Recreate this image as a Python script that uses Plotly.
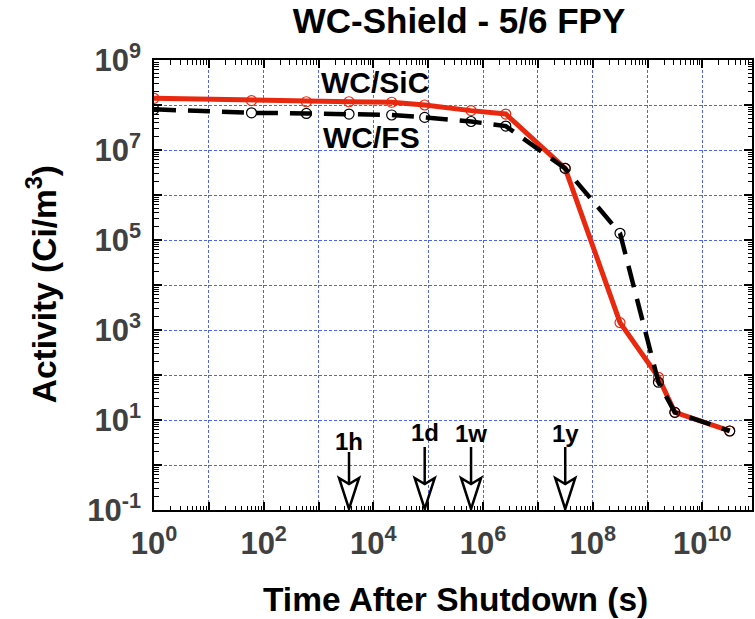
import math
import plotly.graph_objects as go

# ---- data ----
time_s = [1, 60, 600, 3600, 21600, 86400, 604800, 2.6e6, 3.15e7, 3.15e8, 1.58e9, 3.15e9, 3.15e10]
wc_sic = [1.41e8, 1.25e8, 1.18e8, 1.18e8, 1.15e8, 1.0e8, 7.5e7, 6.3e7, 3.9e6, 1.46e3, 89, 14.8, 5.7]
wc_fs = [8.0e7, 6.7e7, 6.5e7, 6.3e7, 6.0e7, 5.3e7, 4.3e7, 3.4e7, 3.9e6, 1.41e5, 69, 14.8, 5.7]

marker_labels = ["1h", "1d", "1w", "1y"]
marker_times = [3600, 86400, 604800, 3.156e7]

x_tick_exps = list(range(0, 11))
y_tick_exps = list(range(-1, 10))
x_label_exps = [0, 2, 4, 6, 8, 10]
y_label_exps = [-1, 1, 3, 5, 7, 9]

# ---- styles ----
RED = "#e8290f"
GRID = "#4f63ec"
FONT = "Liberation Sans, Arial, Helvetica, sans-serif"
TICKCOL = "#404040"
X_RANGE = [0, 10.905]
Y_RANGE = [-1, 9]

fig = go.Figure()

fig.add_trace(go.Scatter(
    x=time_s, y=wc_sic, mode="lines+markers", name="WC/SiC",
    line=dict(color=RED, width=5),
    marker=dict(symbol="circle-open", size=10, color=RED, line=dict(width=1.2, color=RED)),
))
# drawn on the overlay axes (same scales), which also carry the tick labels
fig.add_trace(go.Scatter(
    x=time_s, y=wc_fs, mode="lines+markers", name="WC/FS", xaxis="x2", yaxis="y2",
    line=dict(color="black", width=4.5, dash="22px,12px"),
    marker=dict(symbol="circle-open", size=10, color="black", line=dict(width=1.2, color="black")),
))

def minor_vals(exps):
    return [m * 10.0 ** e for e in exps for m in range(2, 10)]

def labels(exps):
    return [f"10<sup>{e}</sup>" for e in exps]

grid_axis = dict(
    type="log",
    showline=True, linecolor="black", linewidth=2, mirror="ticks",
    ticks="inside", ticklen=8, tickwidth=1.5, tickcolor="black",
    showgrid=True, gridcolor=GRID, gridwidth=1, griddash="3px,2px",
    zeroline=False, showticklabels=False, tickmode="array",
)
label_axis = dict(
    type="log", showline=False, showgrid=False, zeroline=False, ticks="",
    tickmode="array",
    tickfont=dict(family=FONT, size=31, color=TICKCOL, weight="bold"),
)

fig.update_layout(
    xaxis=dict(
        **grid_axis,
        range=X_RANGE,
        tickvals=[10.0 ** e for e in x_tick_exps],
        minor=dict(ticks="inside", ticklen=4.5, tickwidth=1.2, tickcolor="black",
                   tickmode="array", tickvals=minor_vals(x_tick_exps), showgrid=False),
    ),
    yaxis=dict(
        **grid_axis,
        range=Y_RANGE,
        tickvals=[10.0 ** e for e in y_tick_exps],
        minor=dict(ticks="inside", ticklen=4.5, tickwidth=1.2, tickcolor="black",
                   tickmode="array", tickvals=minor_vals(y_tick_exps), showgrid=False),
    ),
    xaxis2=dict(
        **label_axis, overlaying="x", anchor="y2", side="bottom", range=X_RANGE,
        tickvals=[10.0 ** e for e in x_label_exps], ticktext=labels(x_label_exps),
        ticklabelstandoff=12,
    ),
    yaxis2=dict(
        **label_axis, overlaying="y", anchor="x2", side="left", range=Y_RANGE,
        tickvals=[10.0 ** e for e in y_label_exps], ticktext=labels(y_label_exps),
        ticklabelstandoff=12,
    ),
)

annotations = [
    dict(text="<b>WC/SiC</b>", x=4.036, y=8.489, xref="x", yref="y", showarrow=False,
         font=dict(family=FONT, size=30, color="black")),
    dict(text="<b>WC/FS</b>", x=3.964, y=7.267, xref="x", yref="y", showarrow=False,
         font=dict(family=FONT, size=30, color="black")),
    dict(text="<b>Time After Shutdown (s)</b>", x=0.504, y=-0.198, xref="paper", yref="paper",
         showarrow=False, xanchor="center", yanchor="middle",
         font=dict(family=FONT, size=33.5, color="black")),
    dict(text="<b>Activity (Ci/m<sup>3</sup>)</b>", x=-0.187, y=0.502, xref="paper", yref="paper",
         showarrow=False, xanchor="center", yanchor="middle", textangle=-90,
         font=dict(family=FONT, size=33.5, color="black")),
]

label_offsets = {"1h": 0.533, "1d": 0.733, "1w": 0.70, "1y": 0.70}
shapes = []
for lab, t in zip(marker_labels, marker_times):
    annotations.append(dict(
        text=f"<b>{lab}</b>", x=math.log10(t), y=label_offsets[lab], xref="x", yref="y",
        showarrow=False, xanchor="center", yanchor="middle",
        font=dict(family=FONT, size=24, color="black")))
    top = 58 if lab == "1h" else 63
    shapes.append(dict(
        type="path", xref="x", yref="y", xsizemode="pixel", ysizemode="pixel",
        xanchor=t, yanchor=0.1,
        path=f"M0,{top} L0,26 M-10,32 L0,26 L10,32 L0,1 Z",
        line=dict(color="black", width=2.5), fillcolor="rgba(0,0,0,0)", layer="above"))

fig.update_layout(
    width=755, height=619,
    margin=dict(l=154, r=1, t=60, b=109),
    paper_bgcolor="white", plot_bgcolor="white",
    showlegend=False,
    title=dict(text="<b>WC-Shield - 5/6 FPY</b>", x=0.51, xref="paper", xanchor="center",
               y=1 - 21 / 619, yref="container", yanchor="middle",
               font=dict(family=FONT, size=35, color="black")),
    annotations=annotations,
    shapes=shapes,
)

fig.write_html("out.html")
